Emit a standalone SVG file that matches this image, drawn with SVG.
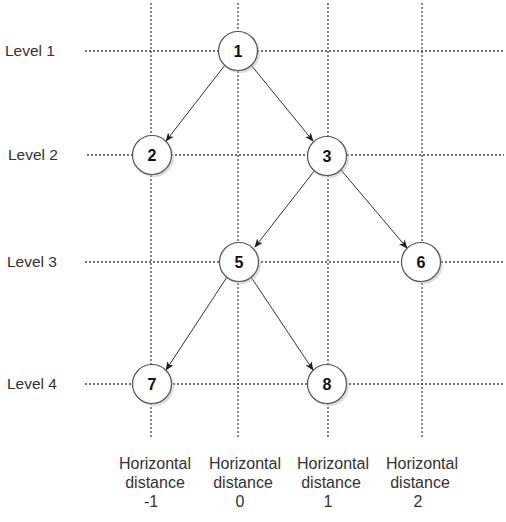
<svg xmlns="http://www.w3.org/2000/svg" width="506" height="522" viewBox="0 0 506 522">
<style>
.grid{stroke:#444;stroke-width:1.3;stroke-dasharray:2 2;fill:none}
.node circle.n{fill:#fff;stroke:#555;stroke-width:1.2}
.node circle.s{fill:#bbb;opacity:0.5}
.node text{font-family:"Liberation Sans",Arial,sans-serif;font-weight:bold;font-size:16px;fill:#111;text-anchor:middle;dominant-baseline:central}
.lbl{font-family:"Liberation Sans",Arial,sans-serif;font-size:15.5px;fill:#333}
.hd{font-family:"Liberation Sans",Arial,sans-serif;font-size:16px;fill:#333;text-anchor:middle}
.edge{stroke:#333;stroke-width:1;fill:none;marker-end:url(#arr)}
</style>
<defs>
<marker id="arr" viewBox="0 0 10 10" refX="9" refY="5" markerWidth="9" markerHeight="9" markerUnits="userSpaceOnUse" orient="auto">
<path d="M0,1 L10,5 L0,9 L2.5,5 Z" fill="#222"/>
</marker>
</defs>
<rect width="506" height="522" fill="#fff"/>
<g id="grid">
<line class="grid" x1="151" y1="3" x2="151" y2="438"/>
<line class="grid" x1="238" y1="3" x2="238" y2="438"/>
<line class="grid" x1="328" y1="3" x2="328" y2="438"/>
<line class="grid" x1="422" y1="3" x2="422" y2="438"/>
<line class="grid" x1="85" y1="51" x2="504" y2="51"/>
<line class="grid" x1="87" y1="155" x2="504" y2="155"/>
<line class="grid" x1="85" y1="262" x2="504" y2="262"/>
<line class="grid" x1="85" y1="384" x2="504" y2="384"/>
</g>
<g id="labels">
<text class="lbl" x="5" y="56">Level 1</text>
<text class="lbl" x="8" y="160">Level 2</text>
<text class="lbl" x="7" y="267">Level 3</text>
<text class="lbl" x="7" y="389">Level 4</text>
<text class="hd" x="155" y="469">Horizontal</text>
<text class="hd" x="155" y="488">distance</text>
<text class="hd" x="151" y="507">-1</text>
<text class="hd" x="245" y="469">Horizontal</text>
<text class="hd" x="243" y="488">distance</text>
<text class="hd" x="240" y="507">0</text>
<text class="hd" x="333" y="469">Horizontal</text>
<text class="hd" x="331" y="488">distance</text>
<text class="hd" x="328" y="507">1</text>
<text class="hd" x="422" y="469">Horizontal</text>
<text class="hd" x="420" y="488">distance</text>
<text class="hd" x="418" y="507">2</text>
</g>
<g id="connectors">
<line class="edge" x1="225" y1="65" x2="166" y2="141"/>
<line class="edge" x1="251" y1="65" x2="313" y2="141"/>
<line class="edge" x1="315" y1="170" x2="255" y2="247"/>
<line class="edge" x1="341" y1="170" x2="407" y2="248"/>
<line class="edge" x1="227" y1="277" x2="166" y2="370"/>
<line class="edge" x1="251" y1="277" x2="313" y2="370"/>
</g>
<g id="n1" class="node"><circle class="s" cx="240" cy="53" r="20"/><circle class="n" cx="238" cy="51" r="19.5"/><text x="238" y="51">1</text></g>
<g id="n2" class="node"><circle class="s" cx="154" cy="157" r="20"/><circle class="n" cx="152" cy="155" r="19.5"/><text x="152" y="155">2</text></g>
<g id="n3" class="node"><circle class="s" cx="329" cy="158" r="20"/><circle class="n" cx="327" cy="156" r="19.5"/><text x="327" y="156">3</text></g>
<g id="n5" class="node"><circle class="s" cx="241" cy="264" r="20"/><circle class="n" cx="239" cy="262" r="19.5"/><text x="239" y="262">5</text></g>
<g id="n6" class="node"><circle class="s" cx="423" cy="264" r="20"/><circle class="n" cx="421" cy="262" r="19.5"/><text x="421" y="262">6</text></g>
<g id="n7" class="node"><circle class="s" cx="154" cy="386" r="20"/><circle class="n" cx="152" cy="384" r="19.5"/><text x="152" y="384">7</text></g>
<g id="n8" class="node"><circle class="s" cx="329" cy="386" r="20"/><circle class="n" cx="327" cy="384" r="19.5"/><text x="327" y="384">8</text></g>
</svg>
